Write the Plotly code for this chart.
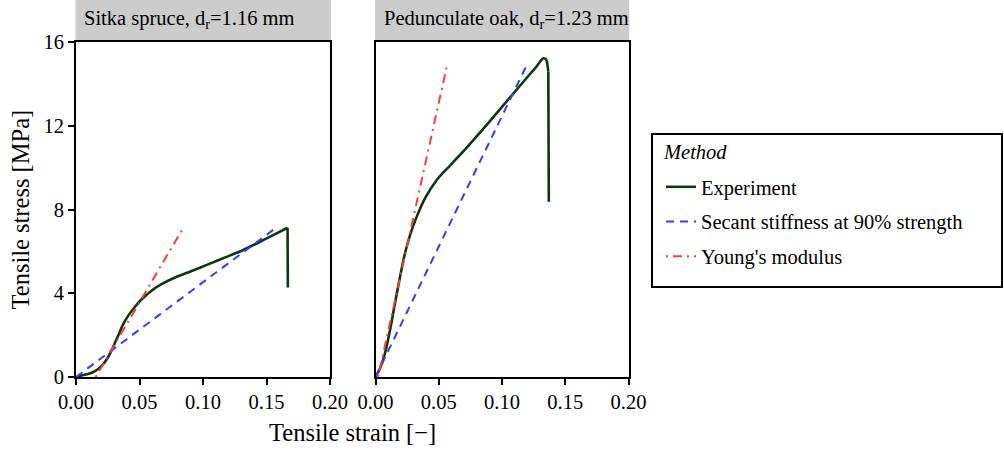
import plotly.graph_objects as go

# ---------------- data ----------------
spruce_strain = [0.000, 0.005, 0.010, 0.015, 0.020, 0.025, 0.029, 0.033, 0.037, 0.041,
                 0.046, 0.0515, 0.059, 0.067, 0.078, 0.091, 0.104, 0.117, 0.130, 0.143,
                 0.156, 0.1666, 0.1668]
spruce_stress = [0.00, 0.08, 0.15, 0.28, 0.52, 0.92, 1.40, 1.95, 2.50, 2.92,
                 3.32, 3.70, 4.10, 4.42, 4.75, 5.06, 5.38, 5.70, 6.02, 6.40,
                 6.80, 7.13, 4.27]
spruce_secant_strain = [0.000, 0.158]
spruce_secant_stress = [0.00, 7.15]
spruce_young_strain = [0.0155, 0.0845]
spruce_young_stress = [0.00, 7.13]

oak_strain = [0.000, 0.0036, 0.0075, 0.0115, 0.0154, 0.0194, 0.0233, 0.0273, 0.0326, 0.0391,
              0.0484, 0.0589, 0.0721, 0.0879, 0.1010, 0.1142, 0.1274, 0.1327, 0.1348, 0.1366,
              0.1370]
oak_stress = [0.00, 0.42, 1.13, 2.24, 3.52, 4.79, 5.91, 6.78, 7.66, 8.53,
              9.41, 10.10, 10.96, 12.04, 12.97, 13.91, 14.84, 15.22, 15.17, 14.58,
              8.37]
oak_secant_strain = [0.000, 0.1200]
oak_secant_stress = [0.00, 14.95]
oak_young_strain = [0.002, 0.0568]
oak_young_stress = [0.00, 14.95]

panel_titles = ["Sitka spruce, d<sub>r</sub>=1.16 mm", "Pedunculate oak, d<sub>r</sub>=1.23 mm"]
x_ticks = [0, 0.05, 0.10, 0.15, 0.20]
x_ticktext = ["0.00", "0.05", "0.10", "0.15", "0.20"]
y_ticks = [0, 4, 8, 12, 16]
method_names = ["Experiment", "Secant stiffness at 90% strength", "Young's modulus"]
legend_title = "Method"

# ---------------- styles ----------------
W, H = 1004, 450
FONT = "Liberation Serif, Times New Roman, Times, DejaVu Serif, serif"
C_EXP, C_SEC, C_YOUNG = "#0d380f", "#3a3aff", "#ff3a3a"
P1 = (76, 330)
P2 = (375.5, 628.5)
TOP, BOT = 42, 377


def fx(p):
    return p / W


def fy(p):
    return 1 - p / H


fig = go.Figure()

panels = [
    (spruce_strain, spruce_stress, spruce_secant_strain, spruce_secant_stress,
     spruce_young_strain, spruce_young_stress, "x", "y", False),
    (oak_strain, oak_stress, oak_secant_strain, oak_secant_stress,
     oak_young_strain, oak_young_stress, "x2", "y2", True),
]
for (sx, sy, secx, secy, yx, yy, xa, ya, show) in panels:
    # smooth loading branch up to failure, then the straight post-failure drop
    fig.add_trace(go.Scatter(x=sx[:-1], y=sy[:-1], mode="lines", name=method_names[0],
                             line=dict(color=C_EXP, width=2.6, shape="spline", smoothing=0.8),
                             xaxis=xa, yaxis=ya, showlegend=show, legendgroup="a"))
    fig.add_trace(go.Scatter(x=sx[-2:], y=sy[-2:], mode="lines", name=method_names[0],
                             line=dict(color=C_EXP, width=2.6),
                             xaxis=xa, yaxis=ya, showlegend=False, legendgroup="a"))
    fig.add_trace(go.Scatter(x=secx, y=secy, mode="lines", name=method_names[1],
                             line=dict(color=C_SEC, width=2, dash="8px,6px"), xaxis=xa, yaxis=ya,
                             showlegend=show, legendgroup="b"))
    fig.add_trace(go.Scatter(x=yx, y=yy, mode="lines", name=method_names[2],
                             line=dict(color=C_YOUNG, width=2, dash="2px,5px,9px,5px"), xaxis=xa, yaxis=ya,
                             showlegend=show, legendgroup="c"))

axis_common = dict(showline=True, mirror=True, linecolor="black", linewidth=1.6,
                   showgrid=False, zeroline=False, automargin=False,
                   tickcolor="black", tickwidth=1.6, ticklen=6,
                   tickfont=dict(family=FONT, size=20.5, color="black"))

fig.update_layout(
    template="none",
    width=W, height=H,
    margin=dict(l=0, r=0, t=0, b=0, autoexpand=False),
    paper_bgcolor="white", plot_bgcolor="white",
    font=dict(family=FONT, size=20.5, color="black"),
    xaxis=dict(domain=[fx(P1[0]), fx(P1[1])], range=[0, 0.2], tickvals=x_ticks,
               ticktext=x_ticktext, anchor="y", ticks="outside", **axis_common),
    yaxis=dict(domain=[fy(BOT), fy(TOP)], range=[0, 16], tickvals=y_ticks,
               anchor="x", ticks="outside", **axis_common),
    xaxis2=dict(domain=[fx(P2[0]), fx(P2[1])], range=[0, 0.2], tickvals=x_ticks,
                ticktext=x_ticktext, anchor="y2", ticks="outside", **axis_common),
    yaxis2=dict(domain=[fy(BOT), fy(TOP)], range=[0, 16], tickvals=y_ticks,
                anchor="x2", showticklabels=False, ticks="", **axis_common),
    legend=dict(x=fx(661), y=fy(167), xanchor="left", yanchor="top",
                bgcolor="rgba(0,0,0,0)", borderwidth=0,
                font=dict(family=FONT, size=20.5, color="black"),
                traceorder="grouped", tracegroupgap=5),
)

shapes = []
annotations = []
for (l, r), title in zip([P1, P2], panel_titles):
    shapes.append(dict(type="rect", xref="paper", yref="paper",
                       x0=fx(l - 0.5), x1=fx(r + 0.8), y0=fy(40.5), y1=fy(0),
                       fillcolor="#cccccc", line=dict(width=0), layer="below"))
    annotations.append(dict(text=title, xref="paper", yref="paper", x=fx(l + 6), y=fy(20),
                            xanchor="left", yanchor="middle", showarrow=False,
                            font=dict(family=FONT, size=20.5, color="black")))
shapes.append(dict(type="rect", xref="paper", yref="paper",
                   x0=fx(652), x1=fx(1002), y0=fy(287), y1=fy(134),
                   line=dict(color="black", width=2), fillcolor="rgba(0,0,0,0)"))
annotations.append(dict(text="<i>" + legend_title + "</i>", xref="paper", yref="paper",
                        x=fx(661), y=fy(152), xanchor="left", yanchor="middle", showarrow=False,
                        font=dict(family=FONT, size=20.5, color="black")))
annotations.append(dict(text="Tensile stress [MPa]", xref="paper", yref="paper",
                        x=fx(20), y=fy((TOP + BOT) / 2), textangle=-90, showarrow=False,
                        xanchor="center", yanchor="middle",
                        font=dict(family=FONT, size=24.5, color="black")))
annotations.append(dict(text="Tensile strain [\u2212]", xref="paper", yref="paper",
                        x=fx(352), y=fy(432), showarrow=False,
                        xanchor="center", yanchor="middle",
                        font=dict(family=FONT, size=24.5, color="black")))
fig.update_layout(shapes=shapes, annotations=annotations)

fig.write_html("out.html", config={"displayModeBar": False},
               post_script="document.body.style.margin='0';document.body.style.overflow='hidden';")
